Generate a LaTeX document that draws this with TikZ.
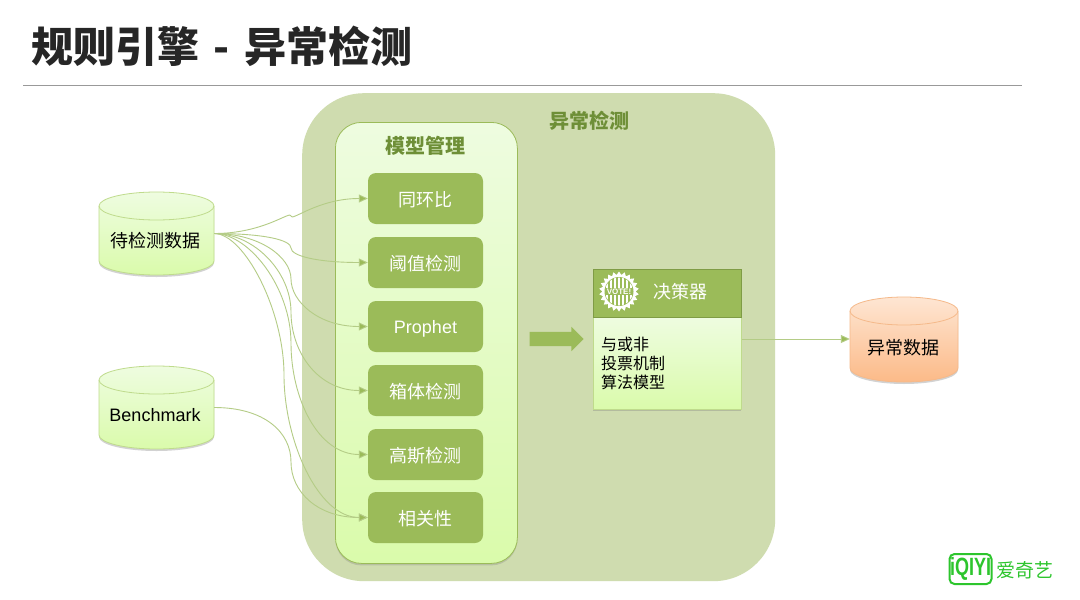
\documentclass[tikz,border=0pt]{standalone}
\usepackage{fontspec}
\usepackage{xcolor}
\setmainfont{Liberation Sans}
\newfontfamily\cjk{Noto Sans CJK SC}
\usetikzlibrary{arrows.meta,shapes.geometric,shapes.arrows,shadows}
\definecolor{leaf}{HTML}{9BBB59}
\definecolor{leafdark}{HTML}{7F9C45}
\definecolor{leafline}{HTML}{B4CC86}
\definecolor{panelbg}{HTML}{CFDCAF}
\definecolor{headtxt}{HTML}{6E8F37}
\definecolor{logogreen}{HTML}{2DC52D}
\definecolor{softtop}{HTML}{EEFCE0}
\definecolor{softbot}{HTML}{DAFBAB}
\definecolor{softline}{HTML}{BFDB8C}
\definecolor{peachtop}{HTML}{FEE6D3}
\definecolor{peachbot}{HTML}{FCBA88}
\definecolor{peachline}{HTML}{F5B98A}
\tikzset{
    modelbox/.style={rectangle, rounded corners=8pt, fill=leaf, text=white, text height=19pt, text depth=4pt,
        minimum width=115pt, minimum height=51pt, font=\cjk\fontsize{18}{20}\selectfont},
    flow/.style={leafline, line width=0.9pt, -{Triangle[length=9pt,width=8pt,fill=leaf]}},
    heading/.style={text=headtxt, font=\cjk\bfseries\fontsize{20}{22}\selectfont},
}
% name, centre x, centre y, width, height, top, bottom, line
\newcommand{\storedrum}[8]{
    \path[draw=#8, thick, top color=#6, bottom color=#7, drop shadow={shadow xshift=0pt, shadow yshift=-2pt, opacity=0.35}]
        (#2-#4/2,#3-#5/2+14) -- (#2-#4/2,#3+#5/2-14) arc (180:0:#4/2 and 14)
        -- (#2+#4/2,#3-#5/2+14) arc (0:-180:#4/2 and 14) -- cycle;
    \draw[#8, thick] (#2-#4/2,#3-#5/2+14) arc (180:0:#4/2 and 14);
    \node[rectangle, minimum width=#4pt, minimum height=#5pt, inner sep=0pt] (#1) at (#2,#3) {};
}
\begin{document}
\begin{tikzpicture}[x=1pt, y=-1pt]
    \useasboundingbox (0,0) rectangle (1080,600);
    \fill[white] (0,0) rectangle (1080,600);

    % Title
    \node[anchor=west, inner sep=0pt, font=\cjk\bfseries\fontsize{42}{46}\selectfont, text=black!85] (title) at (31,46) {规则引擎\hspace{5pt} - \hspace{5pt}异常检测};
    \coordinate (ruleL) at (23,85);
    \coordinate (ruleR) at (1022,85);
    \draw[gray!80, line width=1pt] (ruleL) -- (ruleR);

    % Outer panel
    \node[rectangle, rounded corners=62pt, fill=panelbg, minimum width=473pt, minimum height=488pt, anchor=north west] (detect) at (302,93) {};
    \node[heading] (detectlabel) at (589.5,121) {异常检测};

    % Model panel
    \node[rectangle, rounded corners=26pt, draw=leaf, thick, top color=softtop, bottom color=softbot,
        drop shadow={shadow xshift=0pt, shadow yshift=-2pt, opacity=0.3},
        minimum width=182pt, minimum height=441pt, anchor=north west] (models) at (335,122) {};
    \node[heading] (modelslabel) at (425.5,146) {模型管理};

    \node[modelbox] (tongbi)  at (425.5,198.5) {同环比};
    \node[modelbox] (yuzhi)   at (425.5,262.5) {阈值检测};
    \node[modelbox, font=\fontsize{18}{20}\selectfont, text height=16pt, text depth=3pt] (prophet) at (425.5,326.5) {Prophet};
    \node[modelbox] (xiangti) at (425.5,390.5) {箱体检测};
    \node[modelbox] (gauss)   at (425.5,454.5) {高斯检测};
    \node[modelbox] (corr)    at (425.5,517.5) {相关性};

    % Data stores
    \storedrum{pending}{156.5}{233.5}{115}{83}{softtop}{softbot}{softline}
    \node[font=\cjk\fontsize{18}{20}\selectfont] (pendinglabel) at (155,241) {待检测数据};
    \storedrum{bench}{156.5}{407.5}{115}{83}{softtop}{softbot}{softline}
    \node[font=\fontsize{18}{20}\selectfont] (benchlabel) at (155,415) {Benchmark};
    \storedrum{anomaly}{904}{339.5}{108}{85}{peachtop}{peachbot}{peachline}
    \node[font=\cjk\fontsize{18}{20}\selectfont] (anomalylabel) at (903,348) {异常数据};

    % Connectors with an elbow half way
    \foreach \target/\mx/\my/\k/\c in {tongbi/291/216/6/50, yuzhi/291/248/8/50, prophet/291/279/22/45, xiangti/291/312/40/40, gauss/291/343/55/35, corr/284/375/65/30}
        \draw[flow] (pending.east) .. controls +(\c,0) and +(0,-\k) .. (\mx,\my)
            .. controls +(0,\k) and +(-50,0) .. (\target.west);
    \draw[flow] (bench.east) .. controls +(50,0) and +(0,-30) .. (291,462)
        .. controls +(0,30) and +(-50,0) .. (corr.west);

    % Big arrow
    \node[single arrow, fill=leaf, minimum height=54pt, single arrow head extend=5pt, single arrow tip angle=90, inner sep=7pt] (bigarrow) at (553,339) {};

    % Decision box
    \node[rectangle, draw=softline, thick, top color=softtop, bottom color=softbot,
        drop shadow={shadow xshift=0pt, shadow yshift=-2pt, opacity=0.35},
        minimum width=148pt, minimum height=92pt, anchor=north west] (rules) at (593,317) {};
    \node[rectangle, draw=leafdark, thick, fill=leaf, minimum width=148pt, minimum height=48pt, anchor=north west] (decider) at (593,269) {};
    \node[star, star points=22, star point ratio=1.2, fill=white, minimum size=40pt, inner sep=0pt] (gear) at (619,291.5) {};
    \node[circle, fill=leaf, minimum size=29pt, inner sep=0pt] (gearhole) at (gear) {};
    \begin{scope}
        \clip (gear) circle (14pt);
        \foreach \dx in {-12,-8,-4,0,4,8,12}
            \fill[white] (619+\dx-1,270) rectangle (619+\dx+1,312);
    \end{scope}
    \node[fill=leaf, inner sep=0.5pt, text=white, font=\bfseries\fontsize{8}{9}\selectfont] (votelabel) at (gear) {VOTE!};
    \node[text=white, anchor=west, inner sep=0pt, font=\cjk\fontsize{18}{20}\selectfont] (deciderlabel) at (653,292) {决策器};
    \node[anchor=north west, inner sep=0pt, align=left, font=\cjk\fontsize{16}{19}\selectfont] (ruleslabel) at (601,337) {与或非\\投票机制\\算法模型};

    \draw[flow] (rules.east |- 0,339) -- (anomaly.west |- 0,339);

    % Logo
    \node[rectangle, rounded corners=5pt, draw=logogreen, line width=2pt, minimum width=42pt, minimum height=30pt, inner sep=0pt] (logo) at (970.5,569) {};
    \node[xscale=0.72, inner sep=0pt, text=logogreen, font=\bfseries\fontsize{25}{27}\selectfont] (logoname) at (logo) {iQIYI};
    \node[anchor=west, inner sep=0pt, text=logogreen, font=\cjk\fontsize{19}{21}\selectfont] (logotext) at (996,570) {爱奇艺};
\end{tikzpicture}
\end{document}
